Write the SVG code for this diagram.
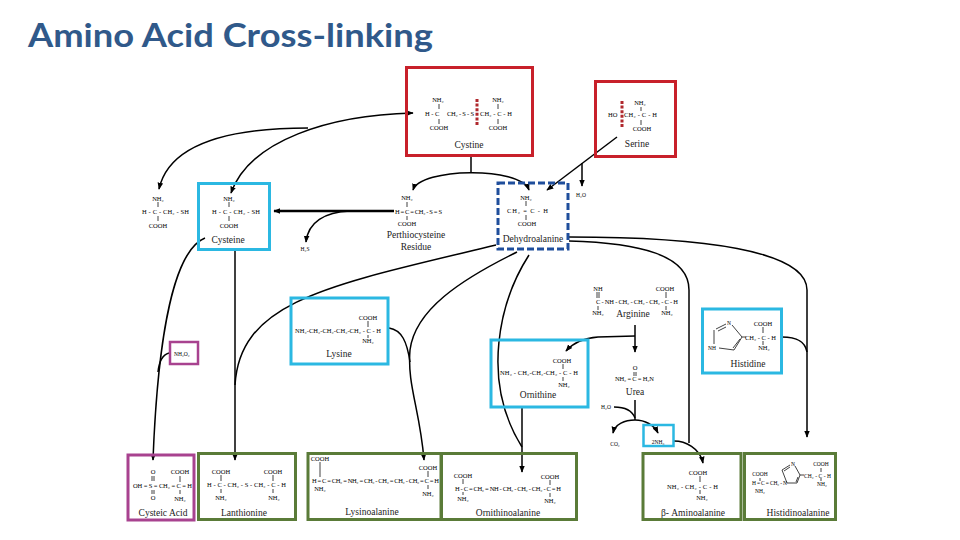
<svg xmlns="http://www.w3.org/2000/svg" width="960" height="540" viewBox="0 0 960 540">
<style>
.t{font-family:"Liberation Serif","Times New Roman",serif;fill:#000}
.f{font-size:6.5px}
.fs{font-size:5.5px}
.n{font-size:9.5px;fill:#222}
.m{text-anchor:middle}
.box{fill:none;stroke-width:3}
.red{stroke:#c8202a}
.cy{stroke:#2bb8e2}
.gr{stroke:#5a7b38}
.mg{stroke:#a8428f}
.bl{stroke:#1f4e9c;stroke-dasharray:7 3}
.bd{fill:none;stroke:#111;stroke-width:0.8}
.cut{stroke:#b0282d;stroke-width:3;stroke-dasharray:3 1.6}
.c{fill:none;stroke:#000;stroke-width:1.5}
.a{marker-end:url(#ah)}
.aa{marker-start:url(#ah);marker-end:url(#ah)}
</style>
<defs>
<marker id="ah" viewBox="0 0 10 10" refX="9" refY="5" markerWidth="7" markerHeight="7" markerUnits="userSpaceOnUse" orient="auto-start-reverse">
<path d="M0,1 L10,5 L0,9 z" fill="#000"/>
</marker>
</defs>
<rect width="960" height="540" fill="#fff"/>
<text x="28" y="47" font-family="Lato,'Liberation Sans',sans-serif" font-weight="bold" font-size="33" fill="#30598a" textLength="405" lengthAdjust="spacingAndGlyphs">Amino Acid Cross-linking</text>

<g id="connectors">
<path class="c aa" d="M231,193 C250,140 330,115 413,113"/>
<path class="c a" d="M308,128 C240,128 170,140 159,189"/>
<path class="c" d="M471,157 L471,172"/>
<path class="c aa" d="M413,190 C420,168 520,166 529,190"/>
<path class="c a" d="M617,137 L547,190"/>
<path class="c a" d="M582,163 L582,186"/>
<path class="c a" d="M394,211 L274,211" style="stroke-width:2.5"/>
<path class="c a" d="M350,211 C325,212 308,222 306,242"/>
<path class="c a" d="M235,251 L235,460"/>
<path class="c" d="M496,245 C330,285 240,300 235,385"/>
<path class="c a" d="M205,238 C175,250 158,330 153,460"/>
<path class="c" d="M169,353 C162,355 159,362 158,372"/>
<path class="c a" d="M517,252 C460,280 415,310 410,350 C407,385 420,410 424,460"/>
<path class="c" d="M389,328 C402,330 407,342 410,362"/>
<path class="c" d="M529,255 C500,300 480,380 522,447"/>
<path class="c a" d="M522,407 L522,472"/>
<path class="c a" d="M635,325 L635,352"/>
<path class="c a" d="M635,336 L598,337 C585,338 573,343 566,351"/>
<path class="c" d="M635,400 L635,420"/>
<path class="c" d="M614,407 C625,407 632,410 635,418"/>
<path class="c a" d="M635,420 C625,420 615,424 613,433"/>
<path class="c a" d="M635,420 C645,420 654,425 658,433"/>
<path class="c a" d="M674,441 C685,441 700,448 703,463"/>
<path class="c" d="M569,241 C640,243 689,255 689,290 L689,443"/>
<path class="c a" d="M569,237 C700,237 807,250 807,290 L807,437"/>
<path class="c" d="M782,337 C795,337 805,340 807,352"/>
</g>

<g id="cystine">
<rect class="box red" x="406.5" y="67.5" width="126" height="88"/>
<line class="cut" x1="477" y1="99" x2="477" y2="126"/>
<path class="bd" d="M439,104V109M439,119V124M498,104V109M498,119V124"/>
<text class="t f m" x="438" y="102">NH₂</text>
<text class="t f" x="425" y="115.5">H - C</text>
<text class="t f" x="447" y="115.5" textLength="27">CH₂ - S - S</text>
<text class="t f" x="480" y="115.5" textLength="32">CH₂ - C - H</text>
<text class="t f m" x="439" y="129.5">COOH</text>
<text class="t f m" x="498" y="102">NH₂</text>
<text class="t f m" x="498" y="129.5">COOH</text>
<text class="t n m" x="469" y="148">Cystine</text>
</g>

<g id="serine">
<rect class="box red" x="595.5" y="81.5" width="80" height="75"/>
<line class="cut" x1="622" y1="101" x2="622" y2="127"/>
<path class="bd" d="M641,107V111M641,120V125"/>
<text class="t f" x="608" y="117">HO</text>
<text class="t f" x="624" y="117" textLength="33">CH₂ - C - H</text>
<text class="t f m" x="640" y="105">NH₂</text>
<text class="t f m" x="642" y="131">COOH</text>
<text class="t n m" x="637" y="147">Serine</text>
</g>

<g id="cysteine-free">
<path class="bd" d="M158,202V207M158,216V221"/>
<text class="t f m" x="158" y="200.5">NH₂</text>
<text class="t f" x="142" y="213.5" textLength="47">H - C - CH₂ - SH</text>
<text class="t f m" x="158" y="227.5">COOH</text>
</g>

<g id="cysteine">
<rect class="box cy" x="198.5" y="183.5" width="71" height="66"/>
<path class="bd" d="M229,202V207M229,216V221"/>
<text class="t f m" x="229" y="200.5">NH₂</text>
<text class="t f" x="212" y="213.5" textLength="48">H - C - CH₂ - SH</text>
<text class="t f m" x="229" y="227.5">COOH</text>
<text class="t n m" x="228" y="243">Cysteine</text>
</g>

<g id="perthiocysteine">
<path class="bd" d="M407,202V207M407,216V220"/>
<text class="t f m" x="407" y="199.5">NH₂</text>
<text class="t f" x="395" y="214" textLength="47">H = C = CH₂ - S = S</text>
<text class="t f m" x="407" y="225.5">COOH</text>
<text class="t n m" x="416" y="238">Perthiocysteine</text>
<text class="t n m" x="416" y="250">Residue</text>
</g>

<g id="h2s"><text class="t fs m" x="305" y="251">H₂S</text></g>

<g id="dehydroalanine">
<rect class="box bl" x="498" y="183" width="70" height="66"/>
<path class="bd" d="M526,201V206M526,215V220"/>
<text class="t f m" x="526" y="199.5">NH₂</text>
<text class="t f" x="507" y="212.5" textLength="41">CH₂ = C - H</text>
<text class="t f m" x="527" y="225.5">COOH</text>
<text class="t n m" x="533" y="242">Dehydroalanine</text>
</g>

<g id="h2o-top"><text class="t fs m" x="581" y="196.5">H₂O</text></g>

<g id="lysine">
<rect class="box cy" x="291" y="298" width="97" height="66"/>
<path class="bd" d="M368,321V327M368,335V338"/>
<text class="t f m" x="368" y="319.5">COOH</text>
<text class="t f" x="295" y="332.5" textLength="86">NH₂-CH₂-CH₂-CH₂-CH₂ - C - H</text>
<text class="t f m" x="368" y="343">NH₂</text>
<text class="t n m" x="339" y="357">Lysine</text>
</g>

<g id="arginine">
<path class="bd" d="M597,292V298M599,292V298M598,306V310M666,292V298M666,306V310"/>
<text class="t f m" x="598" y="290.5">NH</text>
<text class="t f" x="596" y="303.5" textLength="82">C - NH - CH₂ - CH₂ - CH₂ - C - H</text>
<text class="t f m" x="598" y="315">NH₂</text>
<text class="t f m" x="665" y="290.5">COOH</text>
<text class="t f m" x="667" y="315">NH₂</text>
<text class="t n m" x="633" y="316.5">Arginine</text>
</g>

<g id="histidine">
<rect class="box cy" x="702.5" y="309" width="79" height="64"/>
<path class="bd" d="M716,329 L726,324 M732,325 L742,337 L734,350 L719,348 M714,344 L714,330 M742,337 L746,337 M718,331 L726,327 M740,339 L733,348 M763,327V333M763,341V345"/>
<text class="t fs m" x="729" y="325">N</text>
<text class="t fs" x="708" y="350">NH</text>
<text class="t f" x="745" y="339.5" textLength="31">CH₂ - C - H</text>
<text class="t f m" x="763" y="325.5">COOH</text>
<text class="t f m" x="764" y="350">NH₂</text>
<text class="t n m" x="748" y="367">Histidine</text>
</g>

<g id="ornithine">
<rect class="box cy" x="491" y="340" width="97" height="67"/>
<path class="bd" d="M563,364V369M563,377V381"/>
<text class="t f m" x="562" y="362.5">COOH</text>
<text class="t f" x="500" y="374.5" textLength="78">NH₂ - CH₂-CH₂-CH₂ - C - H</text>
<text class="t f m" x="564" y="387">NH₂</text>
<text class="t n m" x="538" y="397.5">Ornithine</text>
</g>

<g id="urea">
<path class="bd" d="M634,372V376M636,372V376"/>
<text class="t f m" x="635" y="370">O</text>
<text class="t f" x="615" y="380.5" textLength="39">NH₂ = C = H₂N</text>
<text class="t n m" x="635" y="395">Urea</text>
</g>

<g id="h2o"><text class="t fs m" x="606" y="409">H₂O</text></g>
<g id="co2"><text class="t fs m" x="615" y="445.5">CO₂</text></g>

<g id="nh3">
<rect class="box cy" x="643.5" y="425" width="30" height="21" style="stroke-width:2.5"/>
<text class="t fs m" x="658" y="443.5">2NH₃</text>
</g>

<g id="h2o2">
<rect class="box mg" x="170" y="342" width="28" height="22" style="stroke-width:2.5"/>
<text class="t fs" x="174" y="355.5">NH₂O₂</text>
</g>

<g id="cysteic-acid">
<rect class="box mg" x="128" y="455" width="66" height="65"/>
<path class="bd" d="M152,476V481M154,476V481M152,490V494M154,490V494M180,476V482M180,490V494"/>
<text class="t f m" x="153" y="474">O</text>
<text class="t f" x="133" y="487.5" textLength="59">OH = S = CH₂ = C = H</text>
<text class="t f m" x="153" y="500">O</text>
<text class="t f m" x="180" y="474">COOH</text>
<text class="t f m" x="180" y="500.5">NH₂</text>
<text class="t n m" x="163" y="516">Cysteic Acid</text>
</g>

<g id="lanthionine">
<rect class="box gr" x="198.5" y="453.5" width="97" height="66"/>
<path class="bd" d="M221,475V481M221,489V493M273,475V481M273,489V493"/>
<text class="t f m" x="221" y="473.5">COOH</text>
<text class="t f m" x="273" y="473.5">COOH</text>
<text class="t f" x="207" y="486.5" textLength="79">H - C - CH₂ - S - CH₂ - C - H</text>
<text class="t f m" x="221" y="499.5">NH₂</text>
<text class="t f m" x="274" y="499.5">NH₂</text>
<text class="t n m" x="244" y="516">Lanthionine</text>
</g>

<g id="lysinoalanine">
<rect class="box gr" x="308" y="453.5" width="133" height="66"/>
<path class="bd" d="M320,462V477M428,471V477M428,485V489"/>
<text class="t f m" x="320" y="460.5">COOH</text>
<text class="t f" x="312" y="482.5" textLength="127">H = C = CH₂ = NH₂ = CH₂ - CH₂ = CH₂ - CH₂ = C = H</text>
<text class="t f m" x="320" y="491">NH₂</text>
<text class="t f m" x="428" y="469.5">COOH</text>
<text class="t f m" x="428" y="495.5">NH₂</text>
<text class="t n m" x="372" y="515">Lysinoalanine</text>
</g>

<g id="ornithinoalanine">
<rect class="box gr" x="441.5" y="453.5" width="135" height="66"/>
<path class="bd" d="M463,479V484M463,492V495M550,480V485M550,493V497"/>
<text class="t f m" x="463" y="477.5">COOH</text>
<text class="t f" x="455" y="490.5" textLength="106">H - C = CH₂ = NH - CH₂ - CH₂ - CH₂ - C = H</text>
<text class="t f m" x="463" y="501">NH₂</text>
<text class="t f m" x="550" y="478.5">COOH</text>
<text class="t f m" x="550" y="503">NH₂</text>
<text class="t n m" x="508" y="516">Ornithinoalanine</text>
</g>

<g id="beta-aminoalanine">
<rect class="box gr" x="643" y="453.5" width="98" height="66"/>
<path class="bd" d="M700,476V482M700,490V494"/>
<text class="t f m" x="698" y="474.5">COOH</text>
<text class="t f" x="667" y="488.5" textLength="51">NH₂ - CH₂ - C - H</text>
<text class="t f m" x="702" y="500">NH₂</text>
<text class="t n m" x="693" y="516">β- Aminoalanine</text>
</g>

<g id="histidinoalanine">
<rect class="box gr" x="744.5" y="453.5" width="91" height="66"/>
<path class="bd" d="M782,470 L790,465 M795,466 L800,475 L797,483 L787,483 L782,470 M784,471 L790,467 M798,477 L796,482 M800,475 L804,475 M760,478V481M821,468V472M821,478V481"/>
<text class="t fs m" x="793" y="466">N</text>
<text class="t fs m" x="760" y="476">COOH</text>
<text class="t fs" x="752" y="485" textLength="35">H = C = CH₂ - N</text>
<text class="t fs m" x="760" y="492.5">NH₂</text>
<text class="t fs m" x="821" y="466">COOH</text>
<text class="t fs" x="804" y="477.5" textLength="27">CH₂ - C - H</text>
<text class="t fs m" x="822" y="486">NH₂</text>
<text class="t n m" x="798" y="516">Histidinoalanine</text>
</g>
</svg>
